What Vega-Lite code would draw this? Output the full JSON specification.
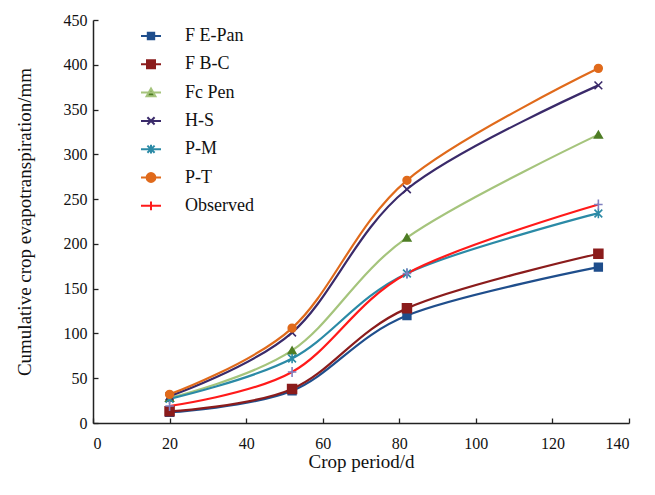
{
  "$schema": "https://vega.github.io/schema/vega-lite/v6.json",
  "width": 536,
  "height": 403,
  "autosize": {"type": "none"},
  "padding": {"left": 93, "top": 20, "right": 26, "bottom": 72},
  "background": "white",
  "config": {
    "view": {"stroke": null},
    "font": "Liberation Serif",
    "axis": {
      "grid": false,
      "domainColor": "#222",
      "domainWidth": 1.5,
      "tickColor": "#222",
      "tickWidth": 1.3,
      "tickSize": -5,
      "labelFont": "Liberation Serif",
      "labelFontSize": 16,
      "labelColor": "#111",
      "titleFont": "Liberation Serif",
      "titleFontSize": 19,
      "titleFontWeight": "normal",
      "titleColor": "#111"
    }
  },
  "data": {
    "values": [
      {"series": "F E-Pan", "day": 20, "et": 12},
      {"series": "F E-Pan", "day": 52, "et": 36},
      {"series": "F E-Pan", "day": 82, "et": 120},
      {"series": "F E-Pan", "day": 132, "et": 174},
      {"series": "F B-C", "day": 20, "et": 13},
      {"series": "F B-C", "day": 52, "et": 38},
      {"series": "F B-C", "day": 82, "et": 128},
      {"series": "F B-C", "day": 132, "et": 189},
      {"series": "Fc Pen", "day": 20, "et": 28},
      {"series": "Fc Pen", "day": 52, "et": 81},
      {"series": "Fc Pen", "day": 82, "et": 207},
      {"series": "Fc Pen", "day": 132, "et": 322},
      {"series": "H-S", "day": 20, "et": 30},
      {"series": "H-S", "day": 52, "et": 101},
      {"series": "H-S", "day": 82, "et": 261},
      {"series": "H-S", "day": 132, "et": 377},
      {"series": "P-M", "day": 20, "et": 27},
      {"series": "P-M", "day": 52, "et": 72},
      {"series": "P-M", "day": 82, "et": 167},
      {"series": "P-M", "day": 132, "et": 234},
      {"series": "P-T", "day": 20, "et": 32},
      {"series": "P-T", "day": 52, "et": 106},
      {"series": "P-T", "day": 82, "et": 271},
      {"series": "P-T", "day": 132, "et": 396},
      {"series": "Observed", "day": 20, "et": 19},
      {"series": "Observed", "day": 52, "et": 57},
      {"series": "Observed", "day": 82, "et": 167},
      {"series": "Observed", "day": 132, "et": 244}
    ]
  },
  "encoding": {
    "x": {
      "field": "day", "type": "quantitative",
      "scale": {"domain": [0, 140], "nice": false, "zero": false},
      "axis": {"values": [0, 20, 40, 60, 80, 100, 120, 140], "title": "Crop period/d", "labelPadding": 17, "titlePadding": 1}
    },
    "y": {
      "field": "et", "type": "quantitative",
      "scale": {"domain": [0, 450], "nice": false},
      "axis": {"values": [0, 50, 100, 150, 200, 250, 300, 350, 400, 450], "title": "Cumulative crop evapotranspiration/mm", "labelPadding": 11, "titlePadding": 29}
    }
  },
  "layer": [
    {
      "mark": {"type": "line", "interpolate": "cardinal", "strokeWidth": 2.2},
      "encoding": {
        "color": {
          "field": "series", "type": "nominal", "legend": null,
          "scale": {
            "domain": ["Observed", "P-T", "P-M", "H-S", "Fc Pen", "F B-C", "F E-Pan"],
            "range": ["#FF1A1A", "#E06A1B", "#2B8AA6", "#3A2A6A", "#A5C47C", "#8B1C1C", "#1F4E8C"]
          }
        }
      }
    },
    {
      "mark": {"type": "point", "filled": true, "size": 60, "strokeWidth": 1.6},
      "encoding": {
        "fill": {
          "field": "series", "type": "nominal", "legend": null,
          "scale": {
            "domain": ["Observed", "P-T", "P-M", "H-S", "Fc Pen", "F B-C", "F E-Pan"],
            "range": ["#8080C0", "#E06A1B", "#2B8AA6", "#3A2A6A", "#4E7D25", "#8B1C1C", "#1F4E8C"]
          }
        },
        "stroke": {
          "field": "series", "type": "nominal", "legend": null,
          "scale": {
            "domain": ["Observed", "P-T", "P-M", "H-S", "Fc Pen", "F B-C", "F E-Pan"],
            "range": ["#8080C0", "#E06A1B", "#2B8AA6", "#3A2A6A", "#4E7D25", "#8B1C1C", "#1F4E8C"]
          }
        },
        "shape": {
          "field": "series", "type": "nominal", "legend": null,
          "scale": {
            "domain": ["Observed", "P-T", "P-M", "H-S", "Fc Pen", "F B-C", "F E-Pan"],
            "range": ["M-1.1,0H1.1M0,-1.3V1.3", "circle", "M-1,-1L1,1M-1,1L1,-1M0,-1.25V1.25", "M-1,-1L1,1M-1,1L1,-1", "triangle-up", "M-1.15,-1.15H1.15V1.15H-1.15Z", "square"]
          }
        },
        "opacity": {
          "field": "series", "type": "nominal",
          "scale": {
            "domain": ["F E-Pan", "F B-C", "Fc Pen", "H-S", "P-M", "P-T", "Observed"],
            "range": [1, 1]
          },
          "legend": {
            "title": null,
            "orient": "none",
            "legendX": 49,
            "legendY": 7,
            "padding": 0,
            "symbolSize": 64,
            "symbolStrokeWidth": 2,
            "labelOffset": 25,
            "rowPadding": 10.3,
            "labelFont": "Liberation Serif",
            "labelFontSize": 18,
            "labelColor": "#111",
            "symbolType": {"expr": "({'F E-Pan':'M-2.5,0H2.5M-0.8,-0.8H0.8V0.8H-0.8Z','F B-C':'M-2.5,0H2.5M-1,-1H1V1H-1Z','Fc Pen':'M-2.5,0H2.5M0,-1L1.1,0.9H-1.1Z','H-S':'M-2.5,0H2.5M-0.9,-0.9L0.9,0.9M-0.9,0.9L0.9,-0.9','P-M':'M-2.5,0H2.5M-0.9,-0.9L0.9,0.9M-0.9,0.9L0.9,-0.9M0,-1.1V1.1','P-T':'M-2.5,0H2.5M1.1,0A1.1,1.1,0,1,1,-1.1,0A1.1,1.1,0,1,1,1.1,0Z','Observed':'M-2.5,0H2.5M0,-1.1V1.1'})[datum.value]"},
            "symbolStrokeColor": {"expr": "({'F E-Pan':'#1F4E8C','F B-C':'#8B1C1C','Fc Pen':'#A5C47C','H-S':'#3A2A6A','P-M':'#2B8AA6','P-T':'#E06A1B','Observed':'#FF1A1A'})[datum.value]"},
            "symbolFillColor": {"expr": "({'F E-Pan':'#1F4E8C','F B-C':'#8B1C1C','Fc Pen':'#4E7D25','H-S':'#3A2A6A','P-M':'#2B8AA6','P-T':'#E06A1B','Observed':'#8080C0'})[datum.value]"}
          }
        }
      }
    }
  ]
}
